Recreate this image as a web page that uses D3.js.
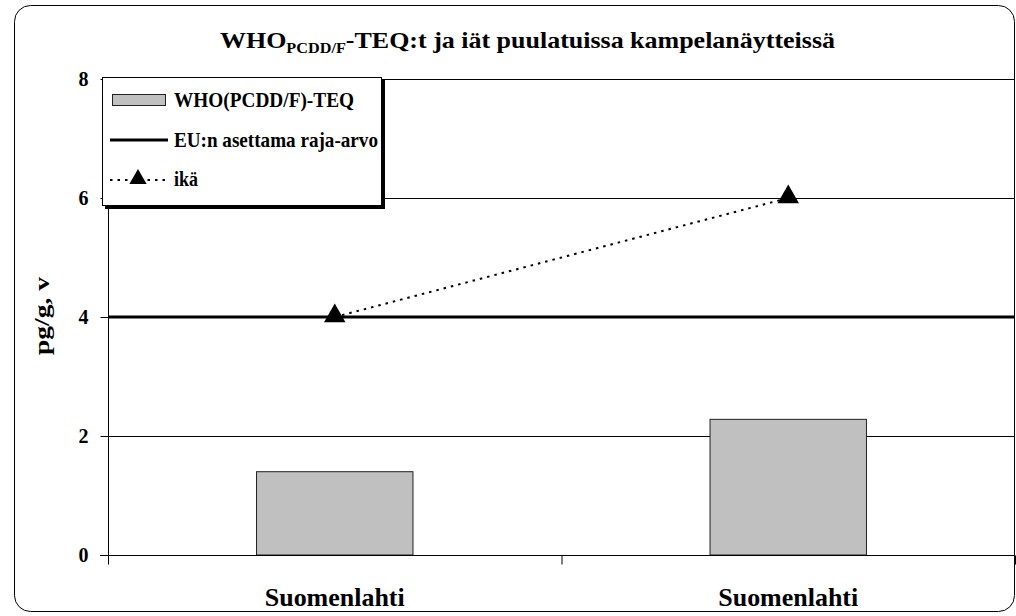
<!DOCTYPE html>
<html><head><meta charset="utf-8">
<script src="https://cdn.jsdelivr.net/npm/d3@7"></script>
<style>body{margin:0;background:#fff}svg{display:block}</style>
</head><body><svg id="c" width="1016" height="616" style="font-family:'Liberation Serif','DejaVu Serif',serif;font-weight:bold"></svg>
<script>
const categories = ["Suomenlahti A", "Suomenlahti B"];
const categoryLabels = ["Suomenlahti", "Suomenlahti"];
const teqValues = [1.4, 2.28];
const euLimit = 4;
const ageValues = [4, 6];
const yTicks = [0, 2, 4, 6, 8];
const legendLabels = ["WHO(PCDD/F)-TEQ", "EU:n asettama raja-arvo", "ikä"];

const FONT = "'Liberation Serif','DejaVu Serif',serif";
const svg = d3.select("#c");
const L = 108, R = 1015, T = 79, B = 555;

svg.append("rect").attr("x", 14.5).attr("y", 5.5).attr("width", 1000).attr("height", 606)
  .attr("rx", 16).attr("fill", "#fff").attr("stroke", "#000").attr("stroke-width", 1);

const x = d3.scaleBand().domain(categories).range([L, R]).padding(0);
const y = d3.scaleLinear().domain([0, 8]).range([B, T]);

svg.append("g").selectAll("line").data(yTicks.filter(d => d > 0)).join("line")
  .attr("x1", L).attr("x2", R).attr("y1", d => y(d) + 0.5).attr("y2", d => y(d) + 0.5)
  .attr("stroke", "#000").attr("stroke-width", 1);

const bw = x.bandwidth() * 0.345;
svg.append("g").selectAll("rect").data(teqValues).join("rect")
  .attr("x", (d, i) => x(categories[i]) + x.bandwidth() / 2 - bw / 2)
  .attr("width", bw)
  .attr("y", d => y(d)).attr("height", d => y(0) - y(d))
  .attr("fill", "#c0c0c0").attr("stroke", "#222").attr("stroke-width", 1);

svg.append("line").attr("x1", L).attr("x2", R).attr("y1", y(euLimit)).attr("y2", y(euLimit))
  .attr("stroke", "#000").attr("stroke-width", 3);

const yAxis = d3.axisLeft(y).tickValues(yTicks).tickSize(8).tickPadding(12).tickFormat(d3.format("d"));
const gy = svg.append("g").attr("transform", `translate(${L + 0.5},0)`).call(yAxis)
  .attr("font-family", FONT).attr("font-weight", "bold");
gy.selectAll("text").style("font-size", "20px").attr("fill", "#000");
gy.selectAll("line").attr("stroke", "#000");
gy.select(".domain").attr("stroke", "#000").attr("d", `M0,${T}V${B + 0.5}`);

const gx = svg.append("g").attr("transform", `translate(0,${B + 0.5})`);
gx.append("line").attr("x1", L - 8).attr("x2", R).attr("stroke", "#000");
const bounds = [L, L + x.bandwidth(), R];
gx.selectAll("line.t").data(bounds).join("line").attr("class", "t")
  .attr("x1", d => d + 0.5).attr("x2", d => d + 0.5).attr("y1", 0).attr("y2", 9).attr("stroke", "#000");
gx.selectAll("text").data(categories).join("text")
  .attr("x", d => x(d) + x.bandwidth() / 2).attr("y", 50)
  .attr("text-anchor", "middle").style("font-size", "26px")
  .attr("textLength", 140).attr("lengthAdjust", "spacingAndGlyphs")
  .text((d, i) => categoryLabels[i]);

const line = d3.line().x((d, i) => x(categories[i]) + x.bandwidth() / 2).y(d => y(d));
svg.append("path").datum(ageValues).attr("d", line).attr("fill", "none")
  .attr("stroke", "#000").attr("stroke-width", 2).attr("stroke-dasharray", "2.5,5");
const tri = d3.symbol().type(d3.symbolTriangle).size(200);
svg.append("g").selectAll("path").data(ageValues).join("path")
  .attr("d", tri)
  .attr("transform", (d, i) => `translate(${x(categories[i]) + x.bandwidth() / 2},${y(d) - 1})`)
  .attr("fill", "#000");

const title = svg.append("text").attr("x", 220).attr("y", 48).style("font-size", "24px")
  .attr("textLength", 615).attr("lengthAdjust", "spacingAndGlyphs");
title.append("tspan").text("WHO");
title.append("tspan").attr("dy", 5).style("font-size", "15px").text("PCDD/F");
title.append("tspan").attr("dy", -5).text("-TEQ:t ja iät puulatuissa kampelanäytteissä");

svg.append("text").attr("transform", "translate(49,316) rotate(-90)").attr("text-anchor", "middle")
  .style("font-size", "22px").attr("textLength", 78).attr("lengthAdjust", "spacingAndGlyphs").text("pg/g, v");

const lg = svg.append("g");
lg.append("rect").attr("x", 105).attr("y", 80).attr("width", 280).attr("height", 129).attr("fill", "#000");
lg.append("rect").attr("x", 102.5).attr("y", 77.5).attr("width", 279).attr("height", 128)
  .attr("fill", "#fff").attr("stroke", "#000").attr("stroke-width", 1);
const ly = [100, 140, 180];
lg.append("rect").attr("x", 112.5).attr("y", ly[0] - 5.5).attr("width", 53).attr("height", 11)
  .attr("fill", "#c0c0c0").attr("stroke", "#222");
lg.append("line").attr("x1", 110).attr("x2", 168).attr("y1", ly[1]).attr("y2", ly[1]).attr("stroke", "#000").attr("stroke-width", 3);
lg.append("line").attr("x1", 110).attr("x2", 168).attr("y1", ly[2]).attr("y2", ly[2]).attr("stroke", "#000").attr("stroke-width", 2).attr("stroke-dasharray", "2.5,5");
lg.append("path").attr("d", d3.symbol().type(d3.symbolTriangle).size(130)).attr("transform", `translate(138,${ly[2] - 1})`).attr("fill", "#000");
const legendW = [180, 204, 24];
lg.selectAll("text").data(legendLabels).join("text")
  .attr("x", 174).attr("y", (d, i) => [107, 147, 186][i]).style("font-size", "21px")
  .attr("textLength", (d, i) => legendW[i]).attr("lengthAdjust", "spacingAndGlyphs").text(d => d);
</script></body></html>
